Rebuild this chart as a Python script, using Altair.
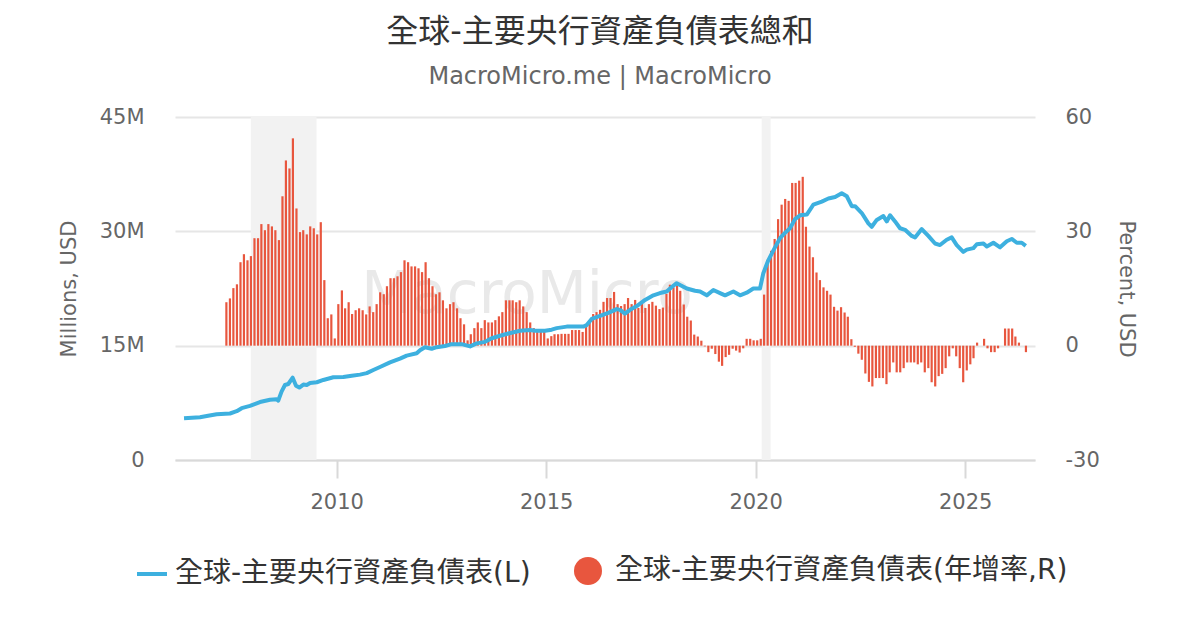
import altair as alt
import pandas as pd

# ---------------- text ----------------
TITLE = "全球-主要央行資產負債表總和"
SUBTITLE = "MacroMicro.me | MacroMicro"
LINE_LABEL = "全球-主要央行資產負債表(L)"
BAR_LABEL = "全球-主要央行資產負債表(年增率,R)"
Y_LEFT_TITLE = "Millions, USD"
Y_RIGHT_TITLE = "Percent, USD"
WATERMARK = "MacroMicro"

# ---------------- data ----------------
# monthly YoY growth (%), first bar = May 2007
bar_start = "2007-05-01"
bar_yoy = [
    11.4, 12.4, 15.1, 16.1, 21.9, 24.0, 22.4, 23.5, 28.2, 28.2, 31.9, 30.3,
    31.9, 31.3, 30.3, 27.7, 39.2, 48.6, 46.5, 54.4, 36.0, 29.8, 30.3, 29.2,
    31.3, 30.8, 29.2, 32.4, 17.2, 7.2, 8.2, 1.9, 10.9, 14.5, 9.8, 11.4,
    8.3, 9.3, 9.8, 9.3, 8.2, 10.3, 8.8, 10.9, 14.0, 13.5, 15.6, 17.7,
    17.7, 18.2, 19.3, 22.4, 21.9, 20.8, 20.8, 20.3, 19.3, 21.9, 17.7, 15.6,
    13.5, 14.0, 11.9, 9.8, 10.9, 11.4, 9.8, 7.2, 5.6, 1.4, 3.0, 4.6,
    6.1, 4.6, 6.7, 6.1, 6.1, 6.7, 7.7, 8.8, 11.9, 11.9, 11.9, 11.4,
    11.9, 10.3, 8.8, 6.1, 4.6, 4.0, 4.0, 4.0, 1.9, 2.5, 3.0, 3.0,
    3.1, 3.1, 3.1, 4.1, 4.1, 4.1, 3.6, 5.2, 6.7, 8.3, 8.8, 9.4,
    11.5, 12.5, 12.5, 14.1, 10.9, 10.4, 10.9, 12.5, 10.9, 12.0, 9.9, 11.5,
    9.9, 10.9, 11.5,
    10.5, 9.6, 10.0, 13.6, 16.0, 15.3, 16.0, 14.4, 10.8, 7.6, 6.6, 2.9,
    2.4, 1.3, -0.2, -1.7, -0.8, -2.2, -4.2, -5.3, -3.0, -2.4, -0.8, -1.3,
    -1.8, -0.7, 1.8, 1.8, 1.4, 1.4, 1.8, 13.4,
    22.5, 24.9, 28.0, 33.2, 37.0, 38.5, 38.0, 42.7, 42.7, 43.3, 44.3, 31.2,
    26.0, 23.2, 19.2, 17.2, 15.3, 14.4, 13.4, 10.2, 9.2, 10.1, 8.7, 7.6,
    1.7, -0.3, -2.1, -3.7, -7.3, -9.5,
    -10.7, -8.5, -8.5, -8.5, -10.1, -7.0, -4.4, -7.0, -7.0, -5.9, -4.4, -4.4,
    -4.4, -4.9, -4.4, -7.0, -5.9, -9.6, -10.7, -8.0, -7.4, -5.9, -2.8, -0.7,
    -2.8, -5.9, -9.6, -6.5, -4.9, -3.3, 0.8, 0.0, 1.8, -0.7, -1.7, -1.7,
    -0.7, 0.0, 4.5, 4.5, 4.5, 2.4, 0.8, 0.0, -1.7,
]

# balance sheet total (millions USD, shown in M) read at these dates (decimal years)
line_t = [
    2006.355, 2006.737, 2006.897, 2007.135, 2007.453, 2007.613, 2007.732, 2007.930,
    2008.169, 2008.408, 2008.568, 2008.606, 2008.687, 2008.766, 2008.845, 2008.950,
    2009.028, 2009.107, 2009.203, 2009.284, 2009.363, 2009.523, 2009.680, 2009.919,
    2010.158, 2010.358, 2010.556, 2010.716, 2010.874, 2011.034, 2011.272, 2011.511,
    2011.671, 2011.910, 2011.989, 2012.108, 2012.268, 2012.387, 2012.585, 2012.745,
    2012.984, 2013.182, 2013.342, 2013.540, 2013.700, 2013.898, 2014.096, 2014.376,
    2014.614, 2014.734, 2014.973, 2015.132, 2015.252, 2015.491, 2015.729, 2015.887,
    2015.968, 2016.087, 2016.286, 2016.484, 2016.684, 2016.763, 2016.882, 2017.002,
    2017.162, 2017.360, 2017.558, 2017.718, 2017.878, 2017.997, 2018.116, 2018.195,
    2018.355, 2018.553, 2018.673, 2018.833, 2018.990, 2019.150, 2019.270, 2019.468,
    2019.628, 2019.788, 2019.945, 2020.105, 2020.184, 2020.303, 2020.463, 2020.583,
    2020.702, 2020.821, 2020.941, 2021.060, 2021.220, 2021.377, 2021.578, 2021.736,
    2021.895, 2022.055, 2022.175, 2022.294, 2022.373, 2022.533, 2022.690, 2022.771,
    2022.891, 2023.049, 2023.130, 2023.209, 2023.328, 2023.447, 2023.567, 2023.726,
    2023.805, 2023.965, 2024.123, 2024.283, 2024.402, 2024.562, 2024.681, 2024.801,
    2024.958, 2025.039, 2025.197, 2025.278, 2025.436, 2025.517, 2025.674, 2025.834,
    2025.994, 2026.113, 2026.233, 2026.352, 2026.448,
]
line_v = [
    5.47, 5.6, 5.77, 6.0, 6.1, 6.4, 6.8, 7.1,
    7.6, 7.9, 7.96, 7.8, 9.0, 9.84, 9.97, 10.8,
    9.75, 9.5, 9.9, 9.84, 10.1, 10.2, 10.5, 10.85,
    10.9, 11.06, 11.2, 11.4, 11.8, 12.2, 12.8, 13.3,
    13.7, 14.0, 14.4, 14.8, 14.6, 14.8, 14.96, 15.2,
    15.2, 14.9, 15.3, 15.5, 15.97, 16.3, 16.6, 16.96,
    17.06, 16.96, 16.96, 17.1, 17.3, 17.5, 17.5, 17.5,
    17.7, 18.5, 18.9, 19.3, 19.8, 19.7, 19.2, 19.7,
    20.2, 21.0, 21.6, 21.9, 22.1, 22.7, 23.2, 22.96,
    22.5, 22.2, 22.1, 21.6, 22.3, 21.9, 21.6, 22.1,
    21.6, 21.95, 22.5, 22.5, 24.5, 26.2, 27.9, 29.1,
    29.8, 30.4, 31.6, 32.1, 32.2, 33.5, 33.9, 34.3,
    34.5, 35.0, 34.6, 33.3, 33.3, 32.4, 31.05, 30.6,
    31.5, 32.0, 31.3, 32.1, 31.3, 30.4, 30.2, 29.4,
    29.2, 30.3, 29.4, 28.4, 28.2, 28.9, 29.2, 28.2,
    27.3, 27.6, 27.8, 28.3, 28.4, 28.0, 28.5, 27.9,
    28.7, 29.0, 28.5, 28.5, 28.1,
]

# shaded recession periods
shade_start = ["2007-12-14", "2020-02-23"]
shade_end = ["2009-07-09", "2020-05-11"]

# ---------------- tables ----------------
def dec_to_date(t):
    y = int(t)
    return pd.Timestamp(year=y, month=1, day=1) + pd.Timedelta(days=(t - y) * 365.25)

bar_dates = pd.date_range(bar_start, periods=len(bar_yoy), freq="MS") + pd.Timedelta(days=14)
bars_df = pd.DataFrame({"date": bar_dates, "yoy": bar_yoy, "series": BAR_LABEL})
line_df = pd.DataFrame({"date": [dec_to_date(t) for t in line_t], "val": line_v, "series": LINE_LABEL})
shade_df = pd.DataFrame({"start": pd.to_datetime(shade_start), "end": pd.to_datetime(shade_end)})
wm_df = pd.DataFrame({"t": [WATERMARK]})

FONT = "DejaVu Sans, Noto Sans CJK TC, sans-serif"
BLUE = "#3db0df"
RED = "#e8563e"

x_scale = alt.Scale(
    domain=[alt.DateTime(year=2006, month=2, date=21), alt.DateTime(year=2026, month=9, date=2)],
    nice=False, padding=0,
)
x_axis = alt.Axis(
    values=[alt.DateTime(year=y, month=1, date=1) for y in (2010, 2015, 2020, 2025)],
    format="%Y", title=None, grid=False,
    domainColor="#d9d9d9", domainWidth=2, tickColor="#d9d9d9", tickWidth=2,
    tickSize=18, labelPadding=13, labelFontSize=21, labelColor="#666",
)

shade = alt.Chart(shade_df).mark_rect(color="#f2f2f2").encode(
    x=alt.X("start:T", scale=x_scale, axis=x_axis),
    x2="end:T",
)

wm = alt.Chart(wm_df).mark_text(
    font=FONT, fontSize=58, color="#e9e9e9", align="center", baseline="middle"
).encode(text="t:N", x=alt.value(352), y=alt.value(179))

bars = alt.Chart(bars_df).mark_bar(size=2.2).encode(
    x=alt.X("date:T", scale=x_scale, axis=x_axis),
    y=alt.Y("yoy:Q", scale=alt.Scale(domain=[-30, 60], nice=False),
            axis=alt.Axis(orient="right", values=[-30, 0, 30, 60], title=Y_RIGHT_TITLE,
                          labelExpr="'' + datum.value",
                          grid=False, domain=False, ticks=False, labelPadding=30,
                          titlePadding=16)),
    fill=alt.Fill("series:N", scale=alt.Scale(domain=[BAR_LABEL], range=[RED]),
                  legend=alt.Legend(orient="none", legendX=399, legendY=440, title=None,
                                    symbolType="circle", symbolSize=784, symbolStrokeWidth=0,
                                    labelFontSize=28, labelFont=FONT, labelColor="#333",
                                    labelOffset=13, labelLimit=800, padding=0)),
)

line = alt.Chart(line_df).mark_line(strokeWidth=4, strokeJoin="round").encode(
    x=alt.X("date:T", scale=x_scale, axis=x_axis),
    y=alt.Y("val:Q", scale=alt.Scale(domain=[0, 45], nice=False),
            axis=alt.Axis(orient="left", values=[0, 15, 30, 45],
                          labelExpr="datum.value == 0 ? '0' : datum.value + 'M'",
                          title=Y_LEFT_TITLE, grid=True, gridColor="#e6e6e6", gridWidth=2,
                          domain=False, ticks=False, labelPadding=31, titlePadding=20)),
    stroke=alt.Stroke("series:N", scale=alt.Scale(domain=[LINE_LABEL], range=[BLUE]),
                      legend=alt.Legend(orient="none", legendX=-40, legendY=440, title=None,
                                        symbolType="stroke", symbolSize=900,
                                        symbolStrokeWidth=4, labelFontSize=28,
                                        labelFont=FONT, labelColor="#333",
                                        labelOffset=6, labelLimit=800, padding=0)),
)

chart = alt.layer(shade, wm, bars, line).resolve_scale(
    y="independent"
).properties(
    width=860, height=343,
    padding={"left": 167, "top": 109, "right": 157, "bottom": 162},
    autosize=alt.AutoSizeParams(type="none"),
    background="white",
    title=alt.TitleParams(text=TITLE, subtitle=SUBTITLE, anchor="middle", frame="group",
                          font=FONT, fontSize=32, fontWeight="normal", color="#333",
                          subtitleFont=FONT, subtitleFontSize=24, subtitleColor="#666",
                          subtitlePadding=16, offset=16, dx=-5),
).configure_axis(
    labelFont=FONT, titleFont=FONT, labelColor="#666", titleColor="#666",
    labelFontSize=21, titleFontSize=21, titleFontWeight="normal",
).configure_view(stroke=None)

chart.save("out.html", embed_options={"renderer": "svg", "actions": False})
